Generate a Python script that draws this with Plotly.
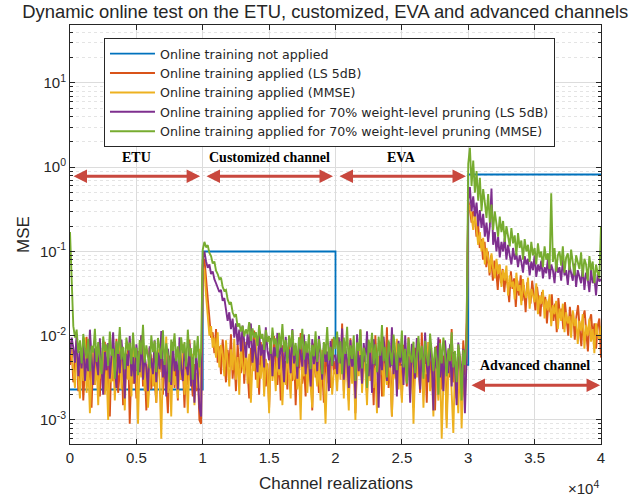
import numpy as np
import plotly.graph_objects as go

# ---- data (MSE values in units of 1e-4) ----
seg_starts = [0, 10000, 20000, 30000]

blue_x = [0, 10000, 10000, 20000, 20000, 30000, 30000, 40000]
blue_y = [0.0023, 0.0023, 0.1, 0.1, 0.0045, 0.0045, 0.82, 0.82]

orange_etu = [45, 70, 28, 55, 88, 22, 40, 63, 17, 35, 97, 30, 48, 14, 58, 26, 74, 38, 19, 52, 33, 85, 24, 44, 11, 60, 29, 41, 92, 21, 36, 67, 15, 50, 31, 78, 9, 43, 27, 56, 18, 66, 34, 100, 25, 47, 13, 39, 71, 23, 54, 32, 16, 62, 37, 82, 20, 45, 28, 12, 58, 35, 73, 24, 49, 17, 65, 30, 42, 14, 55, 26, 90, 33, 19, 46, 22, 38, 10, 9]
orange_cust = [700, 820, 450, 260, 140, 95, 110, 62, 120, 48, 75, 35, 90, 55, 28, 68, 42, 104, 31, 57, 22, 80, 46, 36, 95, 27, 60, 39, 18, 72, 44, 115, 30, 53, 20, 84, 38, 61, 25, 47, 14, 70, 33, 99, 41, 26, 58, 17, 77, 36, 50, 23, 88, 40, 29, 64, 15, 55, 34, 108, 27, 45, 19, 69, 37, 52, 13, 81, 32, 48, 21, 60, 39, 16, 74, 28, 43, 24, 92, 35]
orange_eva = [50, 28, 85, 36, 140, 22, 61, 44, 17, 93, 33, 70, 12, 57, 39, 118, 26, 65, 46, 20, 80, 35, 52, 15, 101, 42, 29, 74, 19, 60, 37, 126, 24, 48, 11, 68, 40, 87, 31, 55, 18, 78, 43, 25, 96, 34, 59, 14, 72, 38, 47, 21, 109, 30, 63, 16, 84, 41, 27, 53, 13, 76, 36, 91, 23, 58, 45, 10, 67, 32, 120, 28, 50, 18, 71, 39, 24, 88, 34, 145]
orange_adv = [4000, 3200, 2200, 3000, 2600, 1500, 2200, 1100, 1400, 800, 1300, 650, 1000, 520, 900, 450, 780, 600, 350, 700, 420, 620, 330, 540, 400, 250, 580, 360, 480, 220, 450, 300, 520, 260, 400, 190, 430, 310, 240, 450, 280, 200, 380, 250, 170, 330, 220, 290, 140, 260, 190, 310, 150, 240, 110, 280, 170, 210, 120, 250, 160, 100, 220, 140, 190, 90, 170, 230, 120, 75, 160, 200, 110, 65, 150, 180, 95, 140, 70, 130, 160, 55]

yellow_etu = [85, 62, 40, 24, 78, 33, 18, 52, 29, 95, 21, 44, 12, 36, 67, 26, 48, 15, 58, 31, 85, 20, 39, 10, 54, 28, 71, 17, 42, 34, 105, 23, 49, 13, 63, 30, 45, 19, 76, 27, 38, 9, 57, 32, 88, 22, 46, 14, 35, 60, 25, 41, 16, 69, 29, 6, 50, 37, 98, 21, 43, 11, 64, 26, 33, 18, 55, 30, 80, 20, 40, 12, 48, 27, 61, 15, 36, 24, 70, 19]
yellow_cust = [650, 600, 300, 170, 100, 130, 72, 95, 55, 110, 42, 78, 60, 33, 88, 47, 25, 69, 39, 92, 30, 56, 20, 74, 43, 35, 84, 27, 61, 16, 50, 38, 100, 24, 45, 31, 66, 19, 53, 40, 12, 71, 29, 48, 22, 86, 34, 57, 15, 44, 26, 64, 37, 18, 75, 30, 52, 23, 41, 10, 58, 33, 80, 21, 46, 28, 14, 62, 36, 25, 49, 17, 68, 31, 9, 43, 27, 55, 20, 38]
yellow_eva = [40, 22, 68, 30, 95, 18, 52, 35, 13, 74, 27, 46, 10, 60, 33, 88, 21, 49, 38, 15, 66, 29, 105, 24, 42, 12, 58, 34, 80, 19, 47, 26, 71, 36, 11, 54, 31, 92, 23, 44, 16, 63, 37, 28, 77, 20, 50, 9, 40, 32, 69, 25, 57, 14, 46, 35, 84, 22, 39, 11, 62, 30, 17, 48, 6, 27, 53, 8, 36, 65, 21, 7, 44, 29, 12, 58, 8, 33, 18, 60]
yellow_adv = [3000, 3600, 2600, 1800, 2900, 1900, 1200, 1700, 1000, 1450, 700, 1100, 850, 560, 950, 620, 480, 820, 540, 700, 380, 600, 450, 680, 300, 520, 380, 440, 270, 560, 340, 400, 230, 470, 320, 280, 490, 210, 360, 300, 250, 420, 180, 300, 240, 350, 160, 270, 200, 310, 130, 230, 180, 260, 120, 210, 150, 240, 110, 190, 140, 170, 95, 200, 130, 160, 80, 150, 115, 180, 70, 135, 100, 160, 85, 120, 62, 140, 105, 90, 130]

purple_etu = [60, 95, 72, 48, 105, 33, 66, 41, 87, 29, 54, 38, 118, 45, 26, 71, 52, 34, 93, 47, 20, 64, 39, 82, 31, 57, 110, 43, 24, 68, 36, 90, 50, 18, 61, 44, 99, 33, 56, 27, 79, 46, 37, 102, 30, 58, 42, 22, 75, 49, 35, 88, 28, 63, 40, 114, 32, 53, 19, 70, 45, 26, 84, 38, 59, 23, 96, 41, 29, 67, 48, 34, 80, 25, 55, 16, 62, 37, 14, 11]
purple_cust = [800, 1000, 760, 640, 700, 540, 580, 470, 420, 380, 330, 350, 260, 280, 200, 150, 190, 120, 160, 95, 140, 78, 118, 65, 132, 84, 55, 106, 71, 140, 48, 90, 62, 37, 112, 58, 79, 42, 126, 66, 51, 94, 33, 73, 57, 108, 40, 85, 62, 28, 97, 54, 69, 36, 120, 47, 76, 31, 88, 60, 43, 103, 35, 67, 52, 25, 91, 46, 74, 38, 99, 56, 30, 82, 49, 65, 22, 87, 44, 58]
purple_eva = [58, 35, 96, 47, 122, 30, 71, 52, 24, 89, 43, 66, 18, 104, 38, 59, 27, 82, 49, 113, 33, 68, 21, 91, 45, 60, 14, 77, 39, 98, 51, 29, 84, 42, 126, 35, 63, 19, 87, 48, 72, 26, 101, 40, 57, 16, 80, 46, 31, 94, 54, 23, 69, 37, 109, 44, 28, 85, 50, 13, 74, 41, 96, 32, 60, 22, 88, 47, 36, 79, 25, 64, 43, 15, 83, 52, 30, 70, 12, 55]
purple_adv = [4000, 5800, 3000, 4500, 2600, 3800, 2000, 3100, 1900, 2800, 1500, 2200, 1300, 2000, 5600, 1200, 1700, 1000, 1500, 850, 1300, 1000, 1450, 800, 1200, 900, 700, 1100, 800, 950, 650, 900, 750, 560, 880, 700, 820, 520, 760, 600, 900, 500, 700, 580, 780, 480, 650, 550, 820, 470, 700, 600, 420, 750, 560, 650, 450, 800, 520, 600, 400, 680, 560, 450, 720, 380, 600, 500, 420, 650, 350, 560, 470, 330, 600, 420, 500, 300, 540, 440, 470]

green_etu = [1700, 420, 130, 95, 118, 62, 88, 47, 105, 71, 54, 92, 38, 76, 63, 121, 49, 84, 57, 35, 98, 66, 79, 44, 112, 58, 70, 31, 86, 61, 127, 52, 74, 40, 95, 67, 83, 46, 109, 55, 72, 34, 89, 60, 135, 48, 77, 56, 41, 101, 64, 87, 37, 94, 69, 53, 116, 45, 81, 59, 28, 90, 66, 107, 50, 75, 39, 96, 62, 84, 43, 118, 57, 71, 30, 88, 54, 99, 42, 65]
green_cust = [1050, 1300, 1120, 1190, 960, 880, 720, 760, 590, 540, 470, 490, 380, 340, 350, 270, 240, 250, 190, 170, 180, 128, 140, 112, 131, 98, 119, 104, 145, 87, 122, 95, 110, 76, 134, 92, 105, 68, 117, 84, 99, 61, 125, 79, 93, 55, 108, 72, 138, 64, 89, 47, 101, 73, 117, 58, 82, 43, 96, 69, 121, 52, 86, 63, 104, 40, 78, 57, 113, 49, 91, 66, 35, 84, 60, 127, 51, 74, 44, 97]
green_eva = [70, 112, 48, 86, 35, 95, 61, 128, 44, 77, 53, 101, 29, 83, 66, 119, 41, 72, 57, 24, 90, 63, 108, 46, 79, 37, 98, 58, 134, 50, 74, 32, 88, 60, 45, 103, 67, 39, 81, 55, 115, 42, 70, 27, 93, 59, 48, 85, 36, 64, 99, 52, 76, 31, 87, 57, 44, 106, 61, 38, 73, 53, 20, 82, 47, 95, 58, 33, 71, 50, 110, 42, 66, 28, 79, 55, 17, 68, 45, 90]
green_adv = [11000, 17000, 6000, 12000, 5000, 9000, 4000, 7500, 3000, 5500, 3800, 2500, 4800, 2200, 3600, 1800, 3000, 2100, 1500, 2600, 1700, 2300, 1300, 2000, 1500, 1150, 1900, 1250, 1550, 900, 1650, 1100, 1350, 800, 1400, 1000, 1200, 750, 1300, 900, 1100, 700, 1250, 850, 1000, 650, 1150, 800, 950, 620, 4900, 750, 1100, 580, 900, 1000, 680, 1150, 560, 850, 950, 600, 1050, 700, 520, 900, 760, 620, 980, 500, 820, 700, 450, 880, 600, 760, 420, 700, 560, 480, 2000]

names = [
    "Online training not applied",
    "Online training applied (LS 5dB)",
    "Online training applied (MMSE)",
    "Online training applied for 70% weight-level pruning (LS 5dB)",
    "Online training applied for 70% weight-level pruning (MMSE)",
]
colors = ["#0072BD", "#D95319", "#EDB120", "#7E2F8E", "#77AC30"]

x_ticks = [0, 5000, 10000, 15000, 20000, 25000, 30000, 35000, 40000]
x_ticklabels = ["0", "0.5", "1", "1.5", "2", "2.5", "3", "3.5", "4"]
y_ticks = [1e-3, 1e-2, 1e-1, 1, 10]
y_ticklabels = ["10<sup>-3</sup>", "10<sup>-2</sup>", "10<sup>-1</sup>", "10<sup>0</sup>", "10<sup>1</sup>"]

region_labels = ["ETU", "Customized channel", "EVA", "Advanced channel"]


def build(segs):
    xs, ys = [], []
    for k, (s0, vals) in enumerate(zip(seg_starts, segs)):
        n = len(vals)
        last = (k == len(segs) - 1)
        xx = np.linspace(s0, s0 + 10000, n) if last else s0 + np.arange(n) * (10000.0 / n)
        xs.extend(list(xx))
        ys.extend([v * 1e-4 for v in vals])
    return xs, ys


series = [
    [orange_etu, orange_cust, orange_eva, orange_adv],
    [yellow_etu, yellow_cust, yellow_eva, yellow_adv],
    [purple_etu, purple_cust, purple_eva, purple_adv],
    [green_etu, green_cust, green_eva, green_adv],
]

fig = go.Figure()
fig.add_trace(go.Scatter(x=blue_x, y=blue_y, mode="lines", name=names[0],
                         line=dict(color=colors[0], width=1.8)))
for i, segs in enumerate(series):
    xs, ys = build(segs)
    fig.add_trace(go.Scatter(x=xs, y=ys, mode="lines", name=names[i + 1],
                             line=dict(color=colors[i + 1], width=1.9)))

axis_col = "#262626"
arrow_col = "#C9483E"

annotations = []
arrow_defs = [(150, 9800, 0.78), (10170, 19810, 0.78), (20190, 29830, 0.78), (30130, 39930, 0.00258)]
for xa, xb, yv in arrow_defs:
    annotations.append(dict(x=xb, y=np.log10(yv), ax=xa, ay=np.log10(yv), xref="x", yref="y",
                            axref="x", ayref="y", text="", showarrow=True, arrowside="end+start",
                            arrowhead=2, arrowsize=0.9, arrowwidth=3, arrowcolor=arrow_col))
label_pos = [(5000, 1.31), (15000, 1.31), (25000, 1.31), (35000, 0.0044)]
for t, (xv, yv) in zip(region_labels, label_pos):
    annotations.append(dict(x=xv, y=np.log10(yv), xref="x", yref="y", text="<b>" + t + "</b>",
                            showarrow=False, font=dict(family="Liberation Serif", size=14, color="black")))
annotations.append(dict(x=1.0, y=-0.105, xref="paper", yref="paper", xanchor="right", yanchor="middle",
                        text="×10<sup>4</sup>", showarrow=False,
                        font=dict(family="Liberation Sans", size=15, color=axis_col)))
annotations.append(dict(x=0.5, y=0, xref="paper", yref="paper", xanchor="center", yanchor="middle",
                        yshift=-39, text="Channel realizations", showarrow=False,
                        font=dict(family="Liberation Sans", size=17, color=axis_col)))

minor_vals = [m * 10.0 ** k for k in range(-4, 2) for m in range(2, 10)]

fig.update_layout(
    width=634, height=496,
    margin=dict(l=70, r=33, t=25, b=52),
    paper_bgcolor="white", plot_bgcolor="white",
    font=dict(family="Liberation Sans", color=axis_col, size=15),
    title=dict(text="Dynamic online test on the ETU, customized, EVA and advanced channels",
               x=0.513, xref="container", xanchor="center", y=0.976, yref="container", yanchor="middle",
               font=dict(size=18.4, color=axis_col)),
    showlegend=True,
    legend=dict(x=0.064, y=0.969, xanchor="left", yanchor="top", bgcolor="white",
                bordercolor=axis_col, borderwidth=1,
                font=dict(family="DejaVu Sans", size=12.6, color=axis_col),
                itemwidth=45, tracegroupgap=0),
    annotations=annotations,
)
fig.update_xaxes(range=[0, 40000], tickvals=x_ticks, ticktext=x_ticklabels,
                 showline=True, linecolor=axis_col, linewidth=1, mirror="ticks",
                 ticks="inside", ticklen=5, tickcolor=axis_col,
                 showgrid=True, gridcolor="#dcdcdc", gridwidth=1, zeroline=False)
fig.update_yaxes(type="log", range=[-3.285, 1.688], tickvals=y_ticks, ticktext=y_ticklabels,
                 showline=True, linecolor=axis_col, linewidth=1, mirror="ticks",
                 ticks="inside", ticklen=5, tickcolor=axis_col,
                 showgrid=True, gridcolor="#dcdcdc", gridwidth=1, zeroline=False,
                 minor=dict(tickmode="array", tickvals=minor_vals, ticks="inside", ticklen=3,
                            tickcolor=axis_col, showgrid=True, gridcolor="#e4e4e4", griddash="dot"),
                 title=dict(text="MSE", font=dict(size=17), standoff=6))

fig.write_html("out.html")
